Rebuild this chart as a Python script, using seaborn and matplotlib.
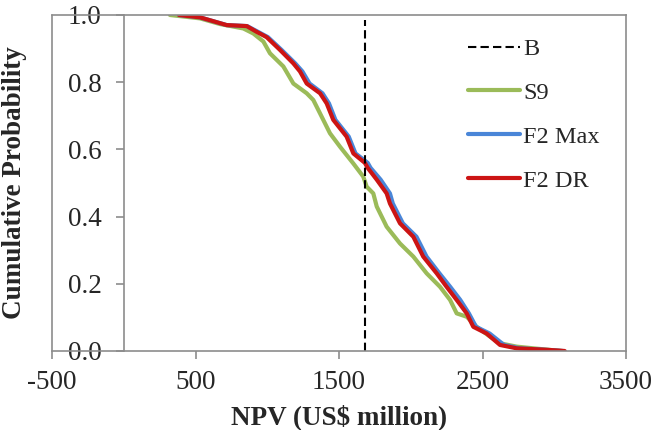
import numpy as np
import pandas as pd
import matplotlib
matplotlib.use("Agg")
import matplotlib.pyplot as plt
import seaborn as sns
from matplotlib.lines import Line2D

# ---- data ----
b_line = 1680  # NPV of case B (dashed line)

s9_npv = [322, 531, 671, 833, 903, 973, 1019, 1112, 1182, 1275, 1321, 1368, 1437, 1507,
          1600, 1669, 1693, 1739, 1763, 1832, 1925, 2018, 2111, 2204, 2274, 2320, 2390,
          2459, 2552, 2622, 2738, 2854, 3050]
s9_prob = [1.0, 0.990, 0.973, 0.960, 0.945, 0.921, 0.886, 0.847, 0.796, 0.767, 0.747, 0.707,
           0.648, 0.608, 0.558, 0.519, 0.489, 0.469, 0.430, 0.370, 0.320, 0.281, 0.231, 0.191,
           0.152, 0.112, 0.102, 0.072, 0.043, 0.023, 0.013, 0.008, 0.0]

f2max_npv = [385, 531, 717, 860, 935, 1005, 1100, 1195, 1245, 1295, 1385, 1430, 1475, 1568,
             1615, 1700, 1720, 1790, 1855, 1875, 1945, 2040, 2110, 2200, 2275, 2345, 2405,
             2455, 2550, 2650, 2760, 2960, 3060]
f2max_prob = [1.0, 0.993, 0.970, 0.967, 0.950, 0.934, 0.896, 0.856, 0.832, 0.796, 0.767, 0.737,
              0.688, 0.638, 0.588, 0.560, 0.545, 0.510, 0.469, 0.439, 0.380, 0.340, 0.281,
              0.231, 0.191, 0.152, 0.112, 0.072, 0.052, 0.018, 0.008, 0.003, 0.0]

f2dr_npv = [385, 531, 717, 857, 926, 996, 1089, 1182, 1228, 1275, 1368, 1414, 1460, 1553,
            1600, 1680, 1700, 1763, 1832, 1855, 1925, 2018, 2087, 2181, 2250, 2320, 2390,
            2436, 2529, 2622, 2738, 2970, 3073]
f2dr_prob = [1.0, 0.993, 0.970, 0.967, 0.950, 0.934, 0.896, 0.856, 0.832, 0.796, 0.767, 0.737,
             0.688, 0.638, 0.588, 0.560, 0.545, 0.510, 0.469, 0.439, 0.380, 0.340, 0.281,
             0.231, 0.191, 0.152, 0.112, 0.072, 0.052, 0.018, 0.008, 0.003, 0.0]

x_ticks = [-500, 500, 1500, 2500, 3500]
x_tick_labels = ['-500', '500', '1500', '2500', '3500']
y_ticks = [0.0, 0.2, 0.4, 0.6, 0.8, 1.0]
y_tick_labels = ['0.0', '0.2', '0.4', '0.6', '0.8', '1.0']

series_names = ['S9', 'F2 Max', 'F2 DR']
colors = {'S9': '#9BBB59', 'F2 Max': '#4A86D8', 'F2 DR': '#CC1414'}

# ---- style ----
sns.set_theme(style='white')
plt.rcParams['font.family'] = ['Liberation Serif', 'DejaVu Serif']
plt.rcParams['axes.unicode_minus'] = False

fig = plt.figure(figsize=(6.7, 4.3), dpi=100)
ax = fig.add_axes([52 / 670, 1 - 351 / 430, (626 - 52) / 670, (351 - 15) / 430])

frames = []
for name, xs, ys in [('S9', s9_npv, s9_prob), ('F2 Max', f2max_npv, f2max_prob),
                     ('F2 DR', f2dr_npv, f2dr_prob)]:
    frames.append(pd.DataFrame({'NPV': xs, 'Prob': ys, 'Case': name}))
df = pd.concat(frames, ignore_index=True)

for name in series_names:
    sub = df[df['Case'] == name]
    sns.lineplot(data=sub, x='NPV', y='Prob', ax=ax, color=colors[name], linewidth=3.0,
                 sort=False, estimator=None, label=name, legend=False)

ax.axvline(b_line, ymin=0, ymax=0.985, color='black', linewidth=1.5,
           linestyle=(0, (4, 2)))

ax.set_xlim(-500, 3500)
ax.set_ylim(0, 1.0)

gray = '#8C8C8C'
for s in ['top', 'right', 'bottom']:
    ax.spines[s].set_visible(True)
    ax.spines[s].set_color(gray)
    ax.spines[s].set_linewidth(1.2)
ax.spines['left'].set_position(('data', 0))
ax.spines['left'].set_color(gray)
ax.spines['left'].set_linewidth(1.2)
# outer frame left edge at x = -500
ax.axvline(-500, color=gray, linewidth=1.2, clip_on=False)

ax.set_xticks(x_ticks)
ax.set_xticklabels(x_tick_labels)
ax.set_yticks(y_ticks)
ax.set_yticklabels(y_tick_labels)
ax.tick_params(axis='x', direction='out', length=6, width=1.2, color=gray,
               labelsize=19.5, pad=8, bottom=True)
ax.tick_params(axis='y', direction='out', length=6, width=1.2, color=gray,
               labelsize=19.5, pad=10, left=True)
ax.grid(False)

ax.set_xlabel(r'NPV (US\$ million)', fontsize=19.5, fontweight='bold', labelpad=6)
ax.set_ylabel('Cumulative Probability', fontsize=19.5, fontweight='bold')
ax.yaxis.set_label_coords((27 - 52) / 574, 0.5, transform=ax.transAxes)

handles = [Line2D([], [], color='black', linewidth=1.5, linestyle=(0, (4, 2))),
           Line2D([], [], color=colors['S9'], linewidth=3.0),
           Line2D([], [], color=colors['F2 Max'], linewidth=3.0),
           Line2D([], [], color=colors['F2 DR'], linewidth=3.0)]
labels = ['B', 'S9', 'F2 Max', 'F2 DR']
fig.legend(handles, labels, loc='upper left', bbox_to_anchor=(468 / 670, 1 - 38 / 430),
           frameon=False, fontsize=17.5, handlelength=2.15, handletextpad=0.12,
           labelspacing=0.9, borderpad=0, borderaxespad=0)

fig.savefig('out.png', dpi=100)
